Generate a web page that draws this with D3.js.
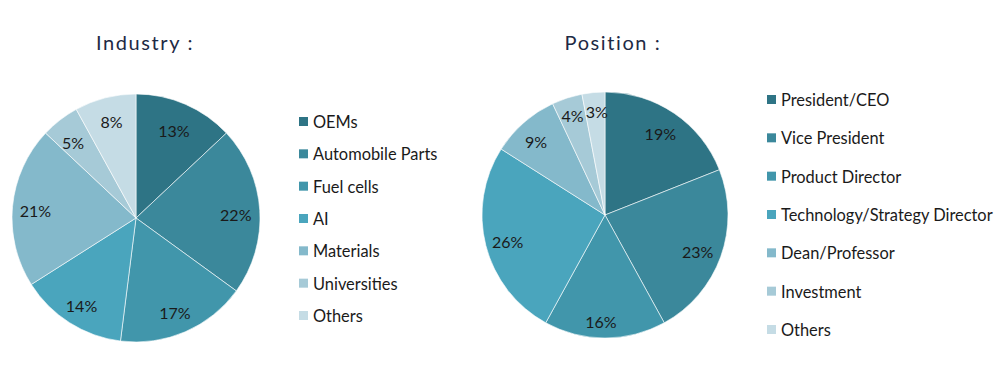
<!DOCTYPE html>
<html><head><meta charset="utf-8">
<script src="https://cdn.jsdelivr.net/npm/d3@7"></script>
<style>body{margin:0;background:#fff}svg{display:block}</style>
</head><body>
<svg id="c" width="1000" height="384"></svg>
<script>
const industryCats = ["OEMs","Automobile Parts","Fuel cells","AI","Materials","Universities","Others"];
const industryVals = [13,22,17,14,21,5,8];
const positionCats = ["President/CEO","Vice President","Product Director","Technology/Strategy Director","Dean/Professor","Investment","Others"];
const positionVals = [19,23,16,26,9,4,3];
const palette = ["#2e7485","#3b889b","#4196ab","#4aa5bd","#84b9cb","#a6cad7","#c5dce5"];

const svg = d3.select("#c");
const font = "Lato, 'Open Sans', sans-serif";

function drawPie(cfg){
  const g = svg.append("g").attr("transform",`translate(${cfg.cx},${cfg.cy})`);
  const pie = d3.pie().sort(null).value(d=>d.v);
  const data = pie(cfg.cats.map((c,i)=>({c, v:cfg.vals[i], i})));
  const arc = d3.arc().innerRadius(0).outerRadius(cfg.r);
  const color = d3.scaleOrdinal().domain(cfg.cats).range(palette);
  g.selectAll("path").data(data).join("path")
    .attr("d",arc).attr("fill",d=>color(d.data.c))
    .attr("stroke","#ffffff").attr("stroke-width",0.6);
  const la = d3.arc().innerRadius(cfg.r*cfg.lr).outerRadius(cfg.r*cfg.lr);
  g.selectAll("text.lbl").data(data).join("text").attr("class","lbl")
    .attr("transform",(d,i)=>{const p=la.centroid(d); const o=(cfg.off&&cfg.off[i])||[0,0]; return `translate(${p[0]+o[0]},${p[1]+o[1]+3})`;})
    .attr("text-anchor","middle").attr("dy","0.35em")
    .attr("font-family",font).attr("font-size",16).attr("fill","#1a1a1a")
    .text(d=>d.data.v+"%");
  svg.append("text").attr("x",cfg.tx).attr("y",cfg.ty).attr("text-anchor","middle")
    .attr("font-family",font).attr("font-size",20).attr("letter-spacing",1.6).attr("fill","#1e2a45")
    .text(cfg.title);
  const y = d3.scalePoint().domain(cfg.cats).range([cfg.ly0,cfg.ly1]);
  const lg = svg.append("g");
  const row = lg.selectAll("g").data(cfg.cats).join("g").attr("transform",d=>`translate(${cfg.lx},${y(d)})`);
  row.append("rect").attr("x",0).attr("y",-5).attr("width",9).attr("height",9).attr("fill",d=>color(d));
  row.append("text").attr("x",14).attr("dy","0.36em").attr("font-family",font).attr("font-size",16.4).attr("fill","#1a1a1a").text(d=>d);
}

drawPie({cats:industryCats, vals:industryVals, cx:136, cy:218, r:124, lr:0.79,
  title:"Industry :", tx:145, ty:50, lx:299, ly0:122, ly1:316,
  off:[[-1,0],[2,1],[0,2],[-2,3],[-3,0],[-3,0],[0,-4]]});
drawPie({cats:positionCats, vals:positionVals, cx:605, cy:215, r:123, lr:0.8,
  title:"Position :", tx:613, ty:50, lx:767, ly0:100, ly1:330,
  off:[[0,-2],[0,1],[-4,6],[-2,0],[-4,-2],[-2,-8],[1,-8]]});
</script>
</body></html>
